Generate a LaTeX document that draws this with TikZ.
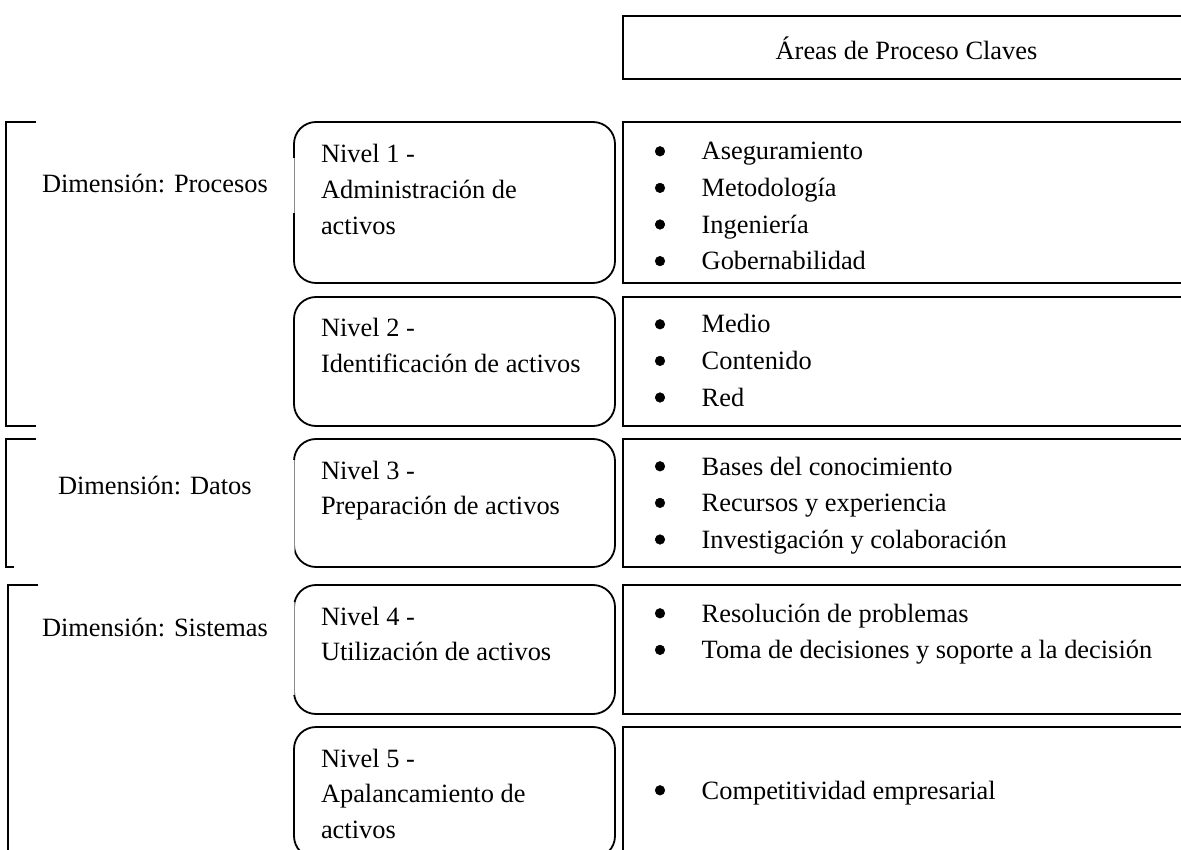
\documentclass[tikz,border=0pt]{standalone}
\usepackage{fontspec}
\setmainfont{Liberation Serif}
\begin{document}
\begin{tikzpicture}[x=1pt,y=-1pt,
  every node/.style={inner sep=0pt, outer sep=0pt, font=\fontsize{26.4}{36.6}\selectfont},
  lvlbox/.style={draw, line width=1.8pt, rounded corners=22pt, anchor=north west},
  areabox/.style={draw, line width=1.8pt, anchor=north west},
  bracketline/.style={line width=1.8pt},
  thinedge/.style={draw=black!45, line width=0.7pt, preaction={draw=white, line width=2.4pt}},
  dot/.style={fill=black, draw=black, line width=0.5pt},
  txt/.style={anchor=base west},
]
% page frame and clipping (boxes run past the right and bottom edges)
\useasboundingbox (0,0) rectangle (1181,850);
\fill[white] (0,0) rectangle (1181,850);
\clip (0,0) rectangle (1181,850);

\newcommand{\lines}[1]{\parbox[t]{480pt}{\raggedright\fontsize{26.4}{36.6}\selectfont #1}}
\newcommand{\biglines}[1]{\parbox[t]{320pt}{\raggedright\fontsize{26.4}{35.6}\selectfont #1}}

% header box
\node[areabox, minimum width=600pt, minimum height=63pt] (head) at (623,16) {};
\node[anchor=base] (headtxt) at (906.5,60) {Áreas de Proceso Claves};

% level boxes (rounded) and area boxes (square)
\node[lvlbox, minimum width=321pt, minimum height=161pt] (n1) at (294,122) {};
\node[lvlbox, minimum width=321pt, minimum height=129pt] (n2) at (294,297) {};
\node[lvlbox, minimum width=321pt, minimum height=128pt] (n3) at (294,439) {};
\node[lvlbox, minimum width=321pt, minimum height=129pt] (n4) at (294,585) {};
\node[lvlbox, minimum width=321pt, minimum height=131pt] (n5) at (294,727) {};

% faint stretches on some left edges
\path[thinedge] (294,158) -- (294,213);
\path[thinedge] (294,460) -- (294,553);
\path[thinedge] (294,602) -- (294,695);

\node[areabox, minimum width=600pt, minimum height=161pt] (a1) at (623,122) {};
\node[areabox, minimum width=600pt, minimum height=129pt] (a2) at (623,297) {};
\node[areabox, minimum width=600pt, minimum height=128pt] (a3) at (623,439) {};
\node[areabox, minimum width=600pt, minimum height=129pt] (a4) at (623,585) {};
\node[areabox, minimum width=600pt, minimum height=131pt] (a5) at (623,727) {};

% level texts
\node[txt] (t1) at (321,163) {\biglines{Nivel 1 -\\Administración de\\activos}};
\node[txt] (t2) at (321,337) {\biglines{Nivel 2 -\\Identificación de activos}};
\node[txt] (t3) at (321,479) {\biglines{Nivel 3 -\\Preparación de activos}};
\node[txt] (t4) at (321,625) {\biglines{Nivel 4 -\\Utilización de activos}};
\node[txt] (t5) at (321,767) {\biglines{Nivel 5 -\\Apalancamiento de\\activos}};

% key process areas
\node[txt] (l1) at (701.7,160) {\lines{Aseguramiento\\Metodología\\Ingeniería\\Gobernabilidad}};
\node[txt] (l2) at (701.7,333) {\lines{Medio\\Contenido\\Red}};
\node[txt] (l3) at (701.7,475) {\lines{Bases del conocimiento\\Recursos y experiencia\\Investigación y colaboración}};
\node[txt] (l4) at (701.7,622) {\lines{Resolución de problemas\\Toma de decisiones y soporte a la decisión}};
\node[txt] (l5) at (701.7,799) {\lines{Competitividad empresarial}};

% list bullets, one per line, centred on the x-height
\foreach \y in {160,196.6,233.2,269.8,333,369.6,406.2,475,511.6,548.2,622,658.6,799}
  \path[dot] (660,\y-8.7) circle[radius=4.8pt];

% dimension brackets and labels
\draw[bracketline] (36,122) -- (6,122) -- (6,426) -- (36,426);
\draw[bracketline] (36,439) -- (6,439) -- (6,567) -- (14,567);
\draw[bracketline] (38,585) -- (8,585) -- (8,870);

\node[txt] (d1) at (42,193) {Dimensión: Procesos};
\node[txt] (d2) at (58,494) {Dimensión: Datos};
\node[txt] (d3) at (42,636) {Dimensión: Sistemas};
\end{tikzpicture}
\end{document}
